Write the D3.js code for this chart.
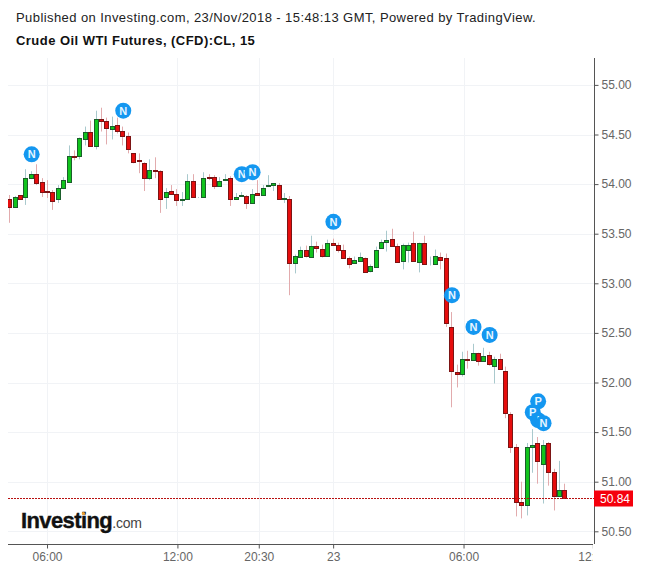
<!DOCTYPE html>
<html>
<head>
<meta charset="utf-8">
<script src="https://cdn.jsdelivr.net/npm/d3@7"></script>
<style>
  html, body { margin: 0; padding: 0; background: #fff; }
  svg { display: block; font-family: "Liberation Sans", Arial, sans-serif; }
</style>
</head>
<body>
<div id="chart"></div>
<script>
// 15 minute candles
const opens = [53.85,53.77,53.89,53.87,54.06,54.10,54.02,53.93,53.92,53.85,53.96,54.02,54.28,54.28,54.46,54.53,54.39,54.66,54.64,54.56,54.60,54.54,54.48,54.31,54.24,54.21,54.06,54.14,54.13,53.87,53.93,53.90,53.84,53.85,54.03,53.87,53.87,54.07,54.07,53.98,54.04,54.06,53.85,53.88,53.88,53.81,53.91,53.89,53.98,53.99,53.99,53.85,53.85,53.21,53.27,53.34,53.27,53.38,53.35,53.28,53.41,53.39,53.34,53.26,53.20,53.23,53.26,53.12,53.17,53.36,53.42,53.45,53.38,53.23,53.34,53.41,53.22,53.41,53.20,53.20,53.27,53.26,52.56,52.11,52.09,52.24,52.23,52.30,52.22,52.28,52.17,52.24,52.12,51.68,51.35,50.80,50.77,51.35,51.39,51.18,51.39,51.10,50.86,50.92];
const highs = [53.89,53.88,53.89,54.15,54.13,54.20,54.06,54.04,53.94,53.99,54.07,54.39,54.34,54.47,54.58,54.64,54.74,54.77,54.67,54.68,54.67,54.58,54.52,54.31,54.31,54.22,54.25,54.27,54.14,53.96,53.99,53.95,53.92,54.10,54.10,53.87,54.12,54.10,54.09,54.07,54.10,54.08,53.91,53.92,53.89,53.95,54.04,53.99,54.09,54.01,54.01,53.91,53.88,53.29,53.37,53.38,53.48,53.42,53.39,53.44,53.45,53.41,53.39,53.27,53.27,53.31,53.26,53.19,53.37,53.44,53.53,53.55,53.40,53.40,53.41,53.52,53.41,53.48,53.27,53.34,53.31,53.30,52.71,52.18,52.31,52.32,52.39,52.30,52.35,52.31,52.26,52.29,52.16,51.70,51.38,51.00,51.39,51.53,51.45,51.42,51.40,51.13,51.21,50.98];
const lows = [53.61,53.76,53.84,53.79,54.05,53.99,53.87,53.86,53.74,53.81,53.95,54.02,54.24,54.25,54.39,54.39,54.35,54.53,54.40,54.45,54.51,54.39,54.31,54.21,54.11,53.93,54.04,54.06,53.71,53.75,53.89,53.78,53.78,53.84,53.87,53.86,53.87,54.04,53.95,53.98,54.03,53.78,53.84,53.87,53.75,53.80,53.88,53.88,53.97,53.93,53.84,53.81,52.88,53.10,53.26,53.26,53.27,53.31,53.26,53.28,53.39,53.31,53.25,53.15,53.20,53.22,53.11,53.11,53.17,53.35,53.32,53.38,53.21,53.14,53.21,53.23,53.11,53.19,53.18,53.19,53.14,52.56,51.75,51.95,52.06,52.14,52.23,52.17,52.22,52.17,51.99,52.14,51.64,51.29,50.65,50.63,50.66,51.09,50.98,50.78,50.96,50.71,50.86,50.84];
const closes = [53.77,53.87,53.85,54.06,54.10,54.01,53.92,53.92,53.83,53.96,54.04,54.28,54.27,54.46,54.53,54.39,54.66,54.64,54.57,54.59,54.54,54.49,54.35,54.22,54.23,54.06,54.14,54.13,53.85,53.92,53.90,53.84,53.85,54.03,53.87,53.87,54.06,54.06,53.98,54.03,54.05,53.85,53.87,53.89,53.81,53.90,53.89,53.96,53.99,54.01,53.85,53.86,53.20,53.28,53.34,53.28,53.38,53.36,53.28,53.41,53.39,53.34,53.26,53.20,53.23,53.27,53.12,53.17,53.34,53.42,53.44,53.38,53.22,53.39,53.39,53.23,53.41,53.20,53.20,53.28,53.24,52.60,52.12,52.09,52.24,52.23,52.30,52.22,52.27,52.19,52.24,52.14,51.70,51.35,50.80,50.77,51.35,51.37,51.21,51.37,51.10,50.86,50.92,50.84];

const priceTicks = [55, 54.5, 54, 53.5, 53, 52.5, 52, 51.5, 51, 50.5];
const timeTicks = [7, 31.2, 46.3, 60.1, 84.3, 108.3];
const timeLabels = ["06:00", "12:00", "20:30", "23", "06:00", "12:00"];

// news / pivot badges: letter, candle index, price level
const eventLetters = ["N", "N", "N", "N", "N", "N", "N", "N", "P", "P", "I", "N"];
const eventIndex = [4, 21, 43, 45, 60, 82, 86, 89, 98, 97, 98, 99];
const eventPrice = [54.30, 54.74, 54.10, 54.12, 53.62, 52.88, 52.56, 52.48, 51.81, 51.70, 51.62, 51.59];

const lastPrice = 50.84;

const width = 652, height = 568;
const plot = {left: 8, right: 594, top: 58, bottom: 544};

const svg = d3.select("#chart").append("svg")
    .attr("width", width)
    .attr("height", height);

const x = d3.scaleLinear().domain([0, 103]).range([9.3, 564.3]);
const y = d3.scaleLinear().domain([50.5, 55]).range([531.3, 84.9]);

const crisp = v => Math.round(v) + 0.5;

svg.append("defs").append("clipPath").attr("id", "plot-clip")
  .append("rect")
    .attr("x", plot.left).attr("y", plot.top)
    .attr("width", plot.right - plot.left).attr("height", plot.bottom - plot.top);

// header
svg.append("text")
    .attr("x", 16).attr("y", 22)
    .style("font-size", "13px").style("letter-spacing", "0.42px")
    .attr("fill", "#222")
    .text("Published on Investing.com, 23/Nov/2018 - 15:48:13 GMT, Powered by TradingView.");
svg.append("text")
    .attr("x", 16).attr("y", 45)
    .style("font-size", "13px").style("font-weight", "bold").style("letter-spacing", "0.46px")
    .attr("fill", "#111")
    .text("Crude Oil WTI Futures, (CFD):CL, 15");

// gridlines
const grid = svg.append("g").attr("stroke", "#f1f3f6").attr("stroke-width", 1);
grid.selectAll(".h").data(priceTicks).enter().append("line")
    .attr("x1", plot.left).attr("x2", plot.right)
    .attr("y1", d => crisp(y(d))).attr("y2", d => crisp(y(d)));
grid.selectAll(".v").data(timeTicks.slice(0, 5)).enter().append("line")
    .attr("x1", d => crisp(x(d))).attr("x2", d => crisp(x(d)))
    .attr("y1", plot.top).attr("y2", plot.bottom);

// logo
const logo = svg.append("text").attr("x", 21).attr("y", 528);
logo.append("tspan")
    .style("font-size", "22px").style("font-weight", "bold").style("letter-spacing", "-0.6px")
    .attr("fill", "#111").attr("stroke", "#111").attr("stroke-width", 0.4)
    .text("Investing");
logo.append("tspan")
    .style("font-size", "14px").style("letter-spacing", "-0.2px")
    .attr("fill", "#444").text(".com");
svg.append("circle").attr("cx", 83.5).attr("cy", 513.5).attr("r", 1.6).attr("fill", "#f0a030");

// candles
const candles = svg.append("g").attr("clip-path", "url(#plot-clip)")
  .selectAll("g").data(opens.map((o, i) => i)).enter().append("g");

candles.append("line")
    .attr("x1", i => crisp(x(i))).attr("x2", i => crisp(x(i)))
    .attr("y1", i => y(highs[i])).attr("y2", i => y(lows[i]))
    .attr("stroke", i => closes[i] >= opens[i] ? "#a9c9cd" : "#e2abad");

candles.append("rect")
    .attr("x", i => crisp(x(i)) - 2)
    .attr("width", 4)
    .attr("y", i => crisp(y(Math.max(opens[i], closes[i]))))
    .attr("height", i => Math.round(Math.abs(y(opens[i]) - y(closes[i]))))
    .attr("fill", i => closes[i] >= opens[i] ? "#11c41d" : "#e60d0d")
    .attr("stroke", i => closes[i] >= opens[i] ? "#1b5e2b" : "#7c1414")
    .attr("stroke-width", 1);

// last price line
svg.append("line")
    .attr("x1", plot.left).attr("x2", plot.right)
    .attr("y1", crisp(y(lastPrice))).attr("y2", crisp(y(lastPrice)))
    .attr("stroke", "#b80f0f").attr("stroke-dasharray", "2,1");

// badges
const badges = svg.append("g").selectAll("g")
    .data(eventLetters.map((d, i) => i)).enter().append("g")
    .attr("transform", i => `translate(${x(eventIndex[i]) + 0.8},${y(eventPrice[i])})`);
badges.append("circle").attr("r", 8).attr("fill", "#1497f0");
badges.append("text")
    .attr("text-anchor", "middle").attr("y", 4)
    .style("font-size", "11px").style("font-weight", "bold")
    .attr("fill", "#e6f5ff")
    .text(i => eventLetters[i]);

// axes
const yAxis = svg.append("g")
    .attr("transform", `translate(${plot.right + 0.5},0)`)
    .call(d3.axisRight(y).tickValues(priceTicks).tickFormat(d3.format(".2f")).tickSize(4).tickPadding(3));
yAxis.select(".domain").attr("d", `M0,${plot.top}V${plot.bottom}`);

const xAxis = svg.append("g")
    .attr("transform", `translate(0,${plot.bottom + 0.5})`)
    .attr("clip-path", "url(#time-clip-local)")
    .call(d3.axisBottom(x).tickValues(timeTicks).tickFormat((d, i) => timeLabels[i]).tickSize(4).tickPadding(4));
xAxis.select(".domain").attr("d", `M${plot.left},0H${plot.right}`);
xAxis.append("clipPath").attr("id", "time-clip-local")
  .append("rect").attr("x", 0).attr("y", -1).attr("width", plot.right - 1).attr("height", 30);

svg.selectAll(".domain").attr("stroke", "#555");
svg.selectAll(".tick line").attr("stroke", "#555");
svg.selectAll(".tick text")
    .attr("fill", "#666")
    .style("font-size", "12px")
    .style("font-family", '"Liberation Sans", Arial, sans-serif');

// last price tag
const tagY = crisp(y(lastPrice));
svg.append("rect")
    .attr("x", plot.right).attr("y", tagY - 8)
    .attr("width", 39).attr("height", 16)
    .attr("fill", "#f5000c");
svg.append("text")
    .attr("x", plot.right + 6).attr("y", tagY + 4)
    .style("font-size", "12px")
    .attr("fill", "#fff")
    .text(d3.format(".2f")(lastPrice));
</script>
</body>
</html>
